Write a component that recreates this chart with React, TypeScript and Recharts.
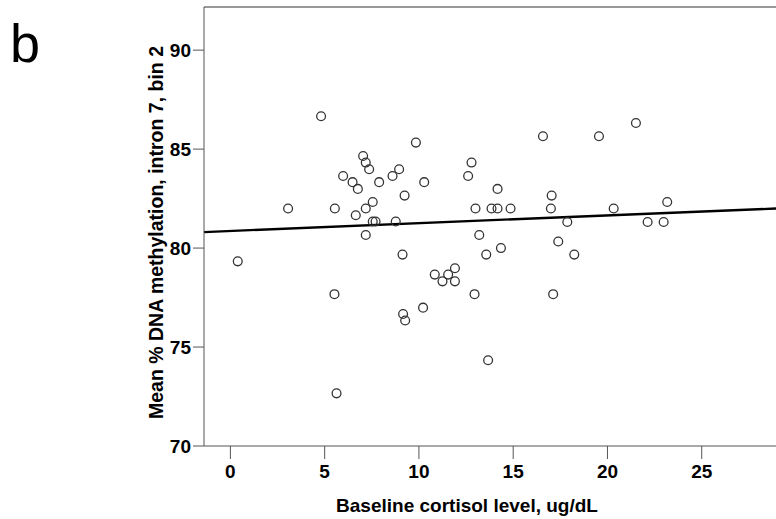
import React from 'react';
import { ScatterChart, Scatter, XAxis, YAxis, ReferenceLine } from 'recharts';

const cortisol = [
  4.81, 7.04, 7.18, 7.36, 5.98, 6.48, 6.76, 7.89, 8.60, 8.95,
  3.06, 5.54, 7.55, 7.18, 6.65, 7.55, 7.70, 8.77, 7.18, 0.39,
  9.13, 9.84, 10.28, 9.24, 12.79, 12.61, 16.58, 14.17, 13.00, 13.85,
  14.17, 14.86, 17.04, 17.00, 17.87, 13.20, 17.39, 13.57, 14.35, 18.24,
  19.55, 21.51, 20.33, 23.17, 22.13, 22.98, 5.52, 5.63, 9.16, 9.27,
  10.22, 10.84, 11.25, 11.55, 11.91, 11.91, 12.95, 13.67, 17.12,
];
const methylation = [
  86.66, 84.65, 84.32, 83.98, 83.64, 83.33, 82.99, 83.33, 83.64, 83.98,
  82.0, 82.0, 82.33, 82.0, 81.66, 81.34, 81.34, 81.34, 80.66, 79.33,
  79.67, 85.33, 83.33, 82.65, 84.32, 83.64, 85.65, 82.99, 82.0, 82.0,
  82.0, 82.0, 82.65, 82.0, 81.32, 80.66, 80.33, 79.67, 80.0, 79.67,
  85.65, 86.32, 82.0, 82.33, 81.32, 81.32, 77.67, 72.66, 76.67, 76.34,
  76.99, 78.66, 78.32, 78.66, 78.98, 78.32, 77.67, 74.33, 77.67,
];
const xTicks = [0, 5, 10, 15, 20, 25];
const yTicks = [70, 75, 80, 85, 90];
const xDomain = [-1.4, 28.94];
const yDomain = [70, 92.18];
const fitX = [-1.4, 28.94];
const fitY = [80.81, 82.0];

const points = cortisol.map((x, i) => ({ x, y: methylation[i] }));

const FONT = '"Liberation Sans", Arial, sans-serif';
const AXIS = '#555';

const Ring = (props: any) => (
  <circle cx={props.cx} cy={props.cy} r={4.4} fill="none" stroke="#333" strokeWidth={1.3} />
);

export default function App() {
  return (
    <div style={{ position: 'absolute', left: 0, top: 0, width: 776, height: 519, background: '#fff' }}>
      <div style={{ position: 'absolute', left: 10, top: 16, fontFamily: FONT, fontSize: 54, lineHeight: '54px', color: '#000' }}>b</div>
      <ScatterChart width={776} height={519} margin={{ top: 7, right: 0, bottom: 0, left: 0 }}>
        <XAxis
          type="number"
          dataKey="x"
          domain={xDomain}
          ticks={xTicks}
          allowDataOverflow
          height={73}
          tickSize={13}
          tickMargin={6}
          stroke={AXIS}
          tick={{ fill: '#000', fontSize: 19, fontWeight: 'bold', fontFamily: FONT }}
          label={(p: any) => (
            <text
              x={p.viewBox.x + p.viewBox.width / 2 - 23}
              y={p.viewBox.y + p.viewBox.height - 7}
              textAnchor="middle"
              fontFamily={FONT}
              fontWeight="bold"
              fontSize={19}
              fill="#000"
            >
              Baseline cortisol level, ug/dL
            </text>
          )}
        />
        <YAxis
          type="number"
          dataKey="y"
          domain={yDomain}
          ticks={yTicks}
          allowDataOverflow
          width={204}
          tickSize={11}
          tickMargin={2}
          stroke={AXIS}
          tick={{ fill: '#000', fontSize: 19, fontWeight: 'bold', fontFamily: FONT }}
          label={(p: any) => {
            const cx = 156;
            const cy = p.viewBox.y + p.viewBox.height / 2 + 6;
            return (
              <text
                x={cx}
                y={cy}
                transform={`rotate(-90 ${cx} ${cy})`}
                textAnchor="middle"
                dominantBaseline="central"
                fontFamily={FONT}
                fontWeight="bold"
                fontSize={19.5}
                fill="#000"
              >
                Mean % DNA methylation, intron 7, bin 2
              </text>
            );
          }}
        />
        <ReferenceLine y={yDomain[1]} stroke="#333" strokeWidth={1.2} />
        <ReferenceLine
          segment={[{ x: fitX[0], y: fitY[0] }, { x: fitX[1], y: fitY[1] }]}
          stroke="#000"
          strokeWidth={2.3}
        />
        <Scatter data={points} shape={Ring} isAnimationActive={false} />
      </ScatterChart>
    </div>
  );
}
